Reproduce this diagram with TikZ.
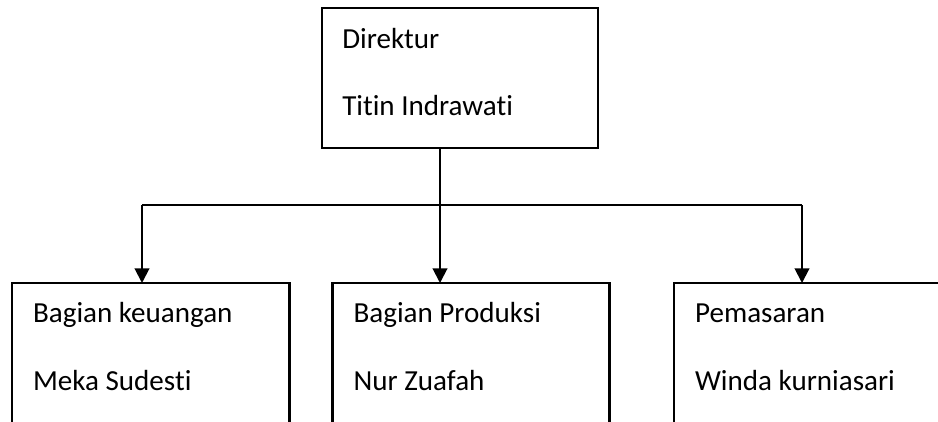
\documentclass[tikz,border=0pt]{standalone}
\usepackage{fontspec}
\setmainfont{Carlito}[Ligatures=NoCommon]
\usetikzlibrary{arrows.meta}
\begin{document}
\begin{tikzpicture}[x=0.75pt,y=-0.75pt,
  box/.style={draw=black,line width=2pt,rectangle,inner sep=0pt,outer sep=0pt,fill=none},
  topbox/.style={box,minimum width=207pt,minimum height=105pt},
  subbox/.style={box,minimum width=208pt,minimum height=150pt},
  lbl/.style={anchor=base west,inner sep=0pt,font=\fontsize{21.8}{26}\selectfont},
  conn/.style={line width=1.5pt},
  arr/.style={conn,-{Triangle[length=11pt,width=11pt]}}]
\useasboundingbox (0,0) rectangle (938,421);
\clip (0,0) rectangle (938,421);
\fill[white] (0,0) rectangle (938,421);
% boxes
\node[topbox] (dir) at (460,78) {};
\node[subbox] (keu) at (150.5,383) {};
\node[subbox] (pro) at (471,383) {};
\node[subbox] (pem) at (812.5,383) {};
% texts
\node[lbl] (t1) at ([shift={(20,40)}]dir.north west) {Direktur};
\node[lbl] (t2) at ([shift={(20,107)}]dir.north west) {Titin Indrawati};
\node[lbl] (k1) at ([shift={(21,39)}]keu.north west) {Bagian keuangan};
\node[lbl] (k2) at ([shift={(21,107)}]keu.north west) {Meka Sudesti};
\node[lbl] (p1) at ([shift={(21,39)}]pro.north west) {Bagian Produksi};
\node[lbl] (p2) at ([shift={(21,107)}]pro.north west) {Nur Zuafah};
\node[lbl] (m1) at ([shift={(21,39)}]pem.north west) {Pemasaran};
\node[lbl] (m2) at ([shift={(21,107)}]pem.north west) {Winda kurniasari};
% connectors
\coordinate (j) at (440,205);
\coordinate (jl) at (142,205);
\coordinate (jr) at (802,205);
\draw[conn] (dir.south -| j) -- (j);
\draw[conn] (jl) -- (jr);
\draw[arr] (jl) -- (jl |- keu.north);
\draw[arr] (j) -- (j |- pro.north);
\draw[arr] (jr) -- (jr |- pem.north);
\end{tikzpicture}
\end{document}
